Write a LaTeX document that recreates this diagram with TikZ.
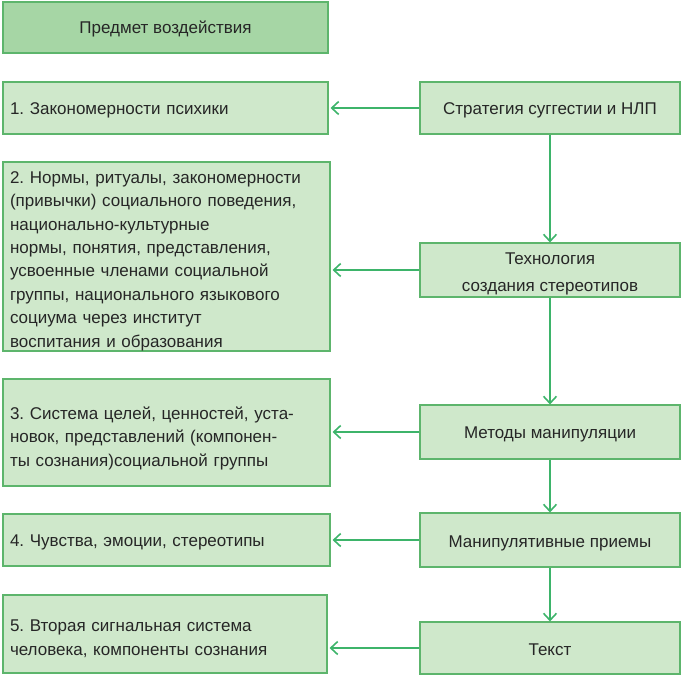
\documentclass[tikz,border=0pt]{standalone}
\usepackage{fontspec}
\setmainfont{Liberation Sans}
\usetikzlibrary{arrows.meta}
\definecolor{boxfill}{HTML}{CFE8CB}
\definecolor{topfill}{HTML}{A6D6A5}
\definecolor{boxline}{HTML}{5DB56C}
\definecolor{arrowc}{HTML}{3DB46A}
\newcommand\lowerby[1]{\rule{0pt}{#1}}
\begin{document}
\frenchspacing
\begin{tikzpicture}[x=1pt,y=1pt,
  base/.style={draw=boxline, line width=1.1pt, fill=boxfill, rectangle, inner sep=0pt,
    font=\fontsize{17}{23.4}\selectfont, text=black!85},
  leftbox/.style={base, inner xsep=7pt, align=left},
  rightbox/.style={base, align=center, minimum width=260pt},
  topbox/.style={base, fill=topfill, align=center},
  conn/.style={draw=arrowc, line width=1.6pt, -{Straight Barb[length=7pt,width=13pt,line width=1.6pt]}, shorten >=2pt}
]
\useasboundingbox (0,0) rectangle (681,-675);

\node[topbox, minimum width=325pt, minimum height=51pt] (top) at (165.5,-27.5) {\lowerby{15pt}Предмет воздействия};

\node[leftbox, text width=311pt, minimum height=52pt] (b1) at (165.5,-108) {\lowerby{17pt}1. Закономерности психики};
\node[leftbox, text width=313pt, minimum height=189pt] (b2) at (166.5,-256.5) {\lowerby{21pt}2. Нормы, ритуалы, закономерности\\(привычки) социального поведения,\\национально-культурные\\нормы, понятия, представления,\\усвоенные членами социальной\\группы, национального языкового\\социума через институт\\воспитания и образования};
\node[leftbox, text width=313pt, minimum height=107pt] (b3) at (166.5,-432.5) {\lowerby{24pt}3. Система целей, ценностей, уста-\\новок, представлений (компонен-\\ты сознания)социальной группы};
\node[leftbox, text width=313pt, minimum height=52pt] (b4) at (166.5,-540) {\lowerby{17pt}4. Чувства, эмоции, стереотипы};
\node[leftbox, text width=310pt, minimum height=78pt] (b5) at (165,-634) {\lowerby{21pt}5. Вторая сигнальная система\\человека, компоненты сознания};

\node[rightbox, minimum height=52pt] (r1) at (550,-108) {\lowerby{17pt}Стратегия суггестии и НЛП};
\node[rightbox, minimum height=54pt, font=\fontsize{17}{27}\selectfont] (r2) at (550,-270) {\lowerby{20.5pt}Технология\\создания стереотипов};
\node[rightbox, minimum height=54pt] (r3) at (550,-432) {\lowerby{17pt}Методы манипуляции};
\node[rightbox, minimum height=54pt] (r4) at (550,-540) {\lowerby{18pt}Манипулятивные приемы};
\node[rightbox, minimum height=52pt] (r5) at (550,-648) {\lowerby{15pt}Текст};

\draw[conn] (r1.west) -- (b1.east);
\draw[conn] (r2.west) -- (r2.west -| b2.east);
\draw[conn] (r3.west) -- (r3.west -| b3.east);
\draw[conn] (r4.west) -- (r4.west -| b4.east);
\draw[conn] (r5.west) -- (r5.west -| b5.east);

\draw[conn, shorten >=0pt] (r1.south) -- (r2.north);
\draw[conn, shorten >=0pt] (r2.south) -- (r3.north);
\draw[conn, shorten >=0pt] (r3.south) -- (r4.north);
\draw[conn, shorten >=0pt] (r4.south) -- (r5.north);
\end{tikzpicture}
\end{document}
